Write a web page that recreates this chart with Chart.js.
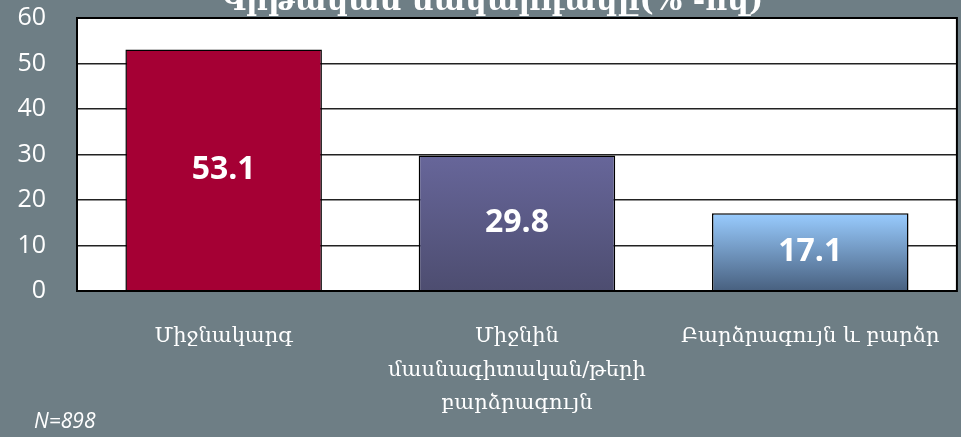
<!DOCTYPE html>
<html>
<head>
<meta charset="utf-8">
<script src="https://cdn.jsdelivr.net/npm/chart.js@4/dist/chart.umd.min.js"></script>
<style>
  html, body { margin: 0; padding: 0; background: #6e7e85; }
  #wrap { width: 961px; height: 437px; position: relative; }
</style>
</head>
<body>
<div id="wrap"><canvas id="chart"></canvas></div>
<script>
const categories = [
  ['Միջնակարգ'],
  ['Միջնին', 'մասնագիտական/թերի', 'բարձրագույն'],
  ['Բարձրագույն և բարձր']
]
const values = [53.1, 29.8, 17.1]
const yTicks = [0, 10, 20, 30, 40, 50, 60]
const titleText = 'Կրթական մակարդակը(% -ով)'
const noteText = 'N=898'

// top / bottom colours of each bar
const barTop = ['#a50034', '#67669a', '#99ccff']
const barBottom = ['#a50034', '#4d4d70', '#48607f']

const ctx = document.getElementById('chart').getContext('2d')

const barFill = (context) => {
  const chart = context.chart
  const i = context.dataIndex
  if (!chart.chartArea) return barTop[i]
  const y = chart.scales.y
  const g = chart.ctx.createLinearGradient(0, y.getPixelForValue(values[i]), 0, y.getPixelForValue(0))
  g.addColorStop(0, barTop[i])
  g.addColorStop(1, barBottom[i])
  return g
}

const extras = {
  id: 'extras',
  beforeDraw(chart) {
    const { ctx, chartArea: a } = chart
    ctx.save()
    ctx.fillStyle = '#ffffff'
    ctx.fillRect(a.left, a.top, a.right - a.left, a.bottom - a.top)
    ctx.restore()
  },
  afterDatasetsDraw(chart) {
    const { ctx, chartArea: a } = chart
    ctx.save()
    ctx.strokeStyle = '#000'
    ctx.lineWidth = 2
    ctx.strokeRect(a.left, a.top, a.right - a.left, a.bottom - a.top)

    // value labels in the middle of each bar
    const meta = chart.getDatasetMeta(0)
    ctx.fillStyle = '#fff'
    ctx.font = 'bold 32px "Open Sans"'
    ctx.textAlign = 'center'
    ctx.textBaseline = 'middle'
    meta.data.forEach((bar, i) => {
      ctx.fillText(values[i].toFixed(1), bar.x, (bar.y + bar.base) / 2)
    })

    // title, mostly cut off at the top edge
    ctx.font = 'bold 30px "DejaVu Serif"'
    ctx.textBaseline = 'alphabetic'
    ctx.fillText(titleText, 492, 10)

    ctx.font = 'italic 21px "Open Sans"'
    ctx.textAlign = 'left'
    ctx.fillText(noteText, 34, 428)
    ctx.restore()
  }
}

new Chart(ctx, {
  type: 'bar',
  data: {
    labels: categories,
    datasets: [{
      data: values,
      backgroundColor: barFill,
      borderColor: '#000',
      borderWidth: 1.5,
      categoryPercentage: 1,
      barPercentage: 0.67
    }]
  },
  options: {
    responsive: true,
    maintainAspectRatio: false,
    animation: false,
    layout: { padding: { top: 18, right: 3, left: 0, bottom: 0 } },
    plugins: {
      legend: { display: false },
      tooltip: { enabled: false }
    },
    scales: {
      x: {
        grid: { display: false },
        border: { display: false },
        ticks: {
          color: '#ffffff',
          font: { family: '"DejaVu Serif"', size: 21, lineHeight: 1.6 },
          padding: 21,
          maxRotation: 0,
          autoSkip: false
        },
        afterFit: (s) => { s.height = 146 }
      },
      y: {
        min: 0,
        max: 60,
        afterBuildTicks: (s) => { s.ticks = yTicks.map((v) => ({ value: v })) },
        grid: { color: '#222', lineWidth: 1.5, tickLength: 31, tickColor: 'rgba(0,0,0,0)' },
        border: { display: false },
        ticks: {
          color: '#ffffff',
          font: { family: '"Open Sans"', size: 25 },
          padding: 0
        },
        afterFit: (s) => { s.width = 77 }
      }
    }
  },
  plugins: [extras]
})
</script>
</body>
</html>
